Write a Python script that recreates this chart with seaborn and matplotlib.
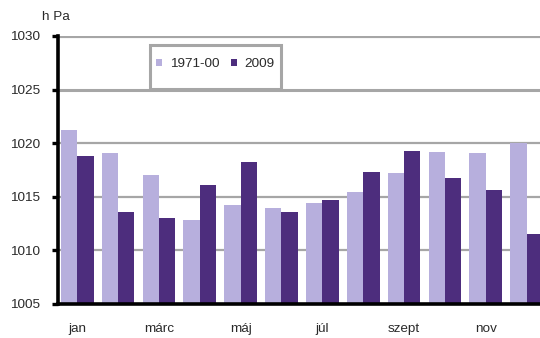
import matplotlib
matplotlib.use("Agg")
import matplotlib.pyplot as plt
from matplotlib.patches import Rectangle
import pandas as pd
import seaborn as sns

# Monthly mean sea-level air pressure (hPa)
months = ["jan", "febr", "márc", "ápr", "máj", "jún",
          "júl", "aug", "szept", "okt", "nov", "dec"]
tick_labels = ["jan", "", "márc", "", "máj", "", "júl", "", "szept", "", "nov", ""]
series_names = ["1971-00", "2009"]
p_1971_00 = [1021.2, 1019.1, 1017.0, 1012.8, 1014.2, 1014.0,
             1014.4, 1015.45, 1017.2, 1019.2, 1019.05, 1020.0]
p_2009 = [1018.8, 1013.6, 1013.05, 1016.1, 1018.2, 1013.55,
          1014.7, 1017.3, 1019.3, 1016.8, 1015.6, 1011.5]

df = pd.DataFrame({
    "month": months * 2,
    "pressure": p_1971_00 + p_2009,
    "period": [series_names[0]] * 12 + [series_names[1]] * 12,
})

sns.set_theme(style="white")
plt.rcParams["font.family"] = ["Liberation Sans", "DejaVu Sans"]

light = "#b7afdd"
dark = "#4d2d7d"
grid_c = "#a6a6a6"
text_c = "#2a2a2a"
fs = 9.7

fig = plt.figure(figsize=(5.40, 3.38), dpi=100)
ax = fig.add_axes([58 / 540, 34 / 338, 489 / 540, 268 / 338])

sns.barplot(data=df, x="month", y="pressure", hue="period",
            palette=[light, dark], width=0.8, saturation=1,
            edgecolor="none", linewidth=0, ax=ax, legend=False, zorder=3)

ax.set_ylim(1005, 1030)
ax.set_xlim(-0.47, 11.5)
ax.set_yticks([1005, 1010, 1015, 1020, 1025, 1030])

# horizontal gridlines, heavier toward the top
for val, lw in [(1010, 1.6), (1015, 1.6), (1020, 1.6), (1025, 2.2), (1030, 3.0)]:
    ax.axhline(val, color=grid_c, lw=lw, zorder=1)

for side in ["top", "right"]:
    ax.spines[side].set_visible(False)
for side in ["left", "bottom"]:
    ax.spines[side].set_color("black")
    ax.spines[side].set_linewidth(2.6)
    ax.spines[side].set_zorder(5)

ax.set_xticks(range(12))
ax.set_xticklabels(tick_labels)
ax.tick_params(axis="x", length=0, pad=14, labelsize=fs, labelcolor=text_c)
ax.tick_params(axis="y", left=True, direction="out", length=4, width=2.4,
               color="black", pad=9, labelsize=fs, labelcolor=text_c)
ax.set_xlabel("")
ax.set_ylabel("")

fig.text(42 / 540, 1 - 17 / 338, "h Pa", fontsize=fs, color=text_c,
         ha="left", va="center")

# legend box
x0, y0, w, h = 0.188, 0.802, 0.268, 0.164
ax.add_patch(Rectangle((x0, y0), w, h, transform=ax.transAxes,
                       facecolor="white", edgecolor=grid_c, lw=2.2, zorder=4))
handles = [Rectangle((0, 0), 1, 1, facecolor=c, edgecolor="none") for c in (light, dark)]
leg = ax.legend(handles, series_names, loc="center",
                bbox_to_anchor=(x0 + w / 2, y0 + h / 2 + 0.01),
                bbox_transform=ax.transAxes, ncol=2, frameon=False,
                handlelength=0.45, handleheight=0.45, handletextpad=0.55,
                columnspacing=0.9, fontsize=fs)
leg.set_zorder(6)
for t in leg.get_texts():
    t.set_color(text_c)

fig.savefig("out.png", dpi=100)
